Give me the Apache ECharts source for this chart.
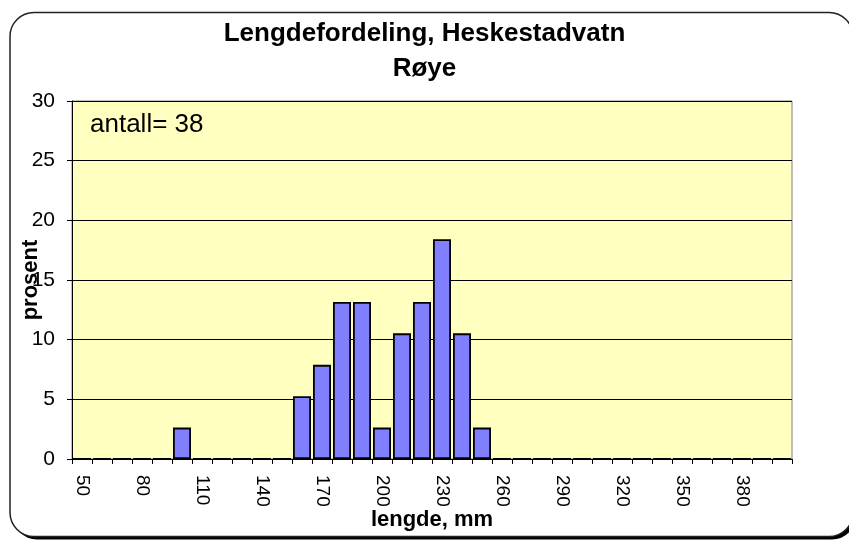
<!DOCTYPE html>
<html>
<head>
<meta charset="utf-8">
<script src="https://cdn.jsdelivr.net/npm/echarts@6/dist/echarts.min.js"></script>
<style>
html,body{margin:0;padding:0;background:#fff;}
#c{width:849px;height:541px;}
</style>
</head>
<body>
<div id="c"></div>
<script>
const lengthClasses = [50,60,70,80,90,100,110,120,130,140,150,160,170,180,190,200,210,220,230,240,250,260,270,280,290,300,310,320,330,340,350,360,370,380,390,400];
const percentValues = [0,0,0,0,0,2.63,0,0,0,0,0,5.26,7.89,13.16,13.16,2.63,10.53,13.16,18.42,10.53,2.63,0,0,0,0,0,0,0,0,0,0,0,0,0,0,0];
const yTicks = [0,5,10,15,20,25,30];
const titleText = 'Lengdefordeling, Heskestadvatn';
const subtitleText = 'Røye';
const noteText = 'antall= 38';
const xName = 'lengde, mm';
const yName = 'prosent';

const FONT = 'Arial, "Liberation Sans", sans-serif';
const chart = echarts.init(document.getElementById('c'), null, {renderer:'canvas'});
chart.setOption({
  animation:false,
  backgroundColor:'#ffffff',
  graphic:[
    {type:'rect', z:-10, shape:{x:13,y:15.5,width:843,height:524,r:24}, style:{fill:'#000'}},
    {type:'rect', z:-9, shape:{x:10,y:12.5,width:843,height:524,r:24}, style:{fill:'#fff',stroke:'#222',lineWidth:1.5}},
    {type:'text', left:'center', top:16, style:{text:titleText+'\n'+subtitleText, font:'bold 26px '+FONT, fill:'#000', textAlign:'center', lineHeight:35}},
    {type:'text', left:90, top:112, z:10, style:{text:noteText, font:'26px '+FONT, fill:'#000'}}
  ],
  grid:{left:72, right:57, top:101, bottom:82, show:true, outerBoundsMode:'none', containLabel:false,
        backgroundColor:'#FFFFC0', borderColor:'#808080', borderWidth:1},
  xAxis:{
    type:'category',
    data:lengthClasses,
    boundaryGap:true,
    name:xName, nameLocation:'middle', nameGap:50, nameMoveOverlap:false,
    nameTextStyle:{fontFamily:FONT, fontWeight:'bold', fontSize:22, color:'#000'},
    axisLine:{lineStyle:{color:'#000', width:1}},
    axisTick:{show:true, interval:0, length:5, lineStyle:{color:'#000'}},
    axisLabel:{interval:2, rotate:-90, margin:16, fontFamily:FONT, fontSize:19, color:'#000'},
    splitLine:{show:false}
  },
  yAxis:{
    type:'value', min:0, max:30, interval:5,
    name:yName, nameLocation:'middle', nameGap:30, nameMoveOverlap:false,
    nameTextStyle:{fontFamily:FONT, fontWeight:'bold', fontSize:22, color:'#000'},
    axisLine:{show:true, lineStyle:{color:'#000', width:1}},
    axisTick:{show:true, length:5, lineStyle:{color:'#000'}},
    axisLabel:{margin:17, fontFamily:FONT, fontSize:21, color:'#000',
      formatter:function(v){return yTicks.indexOf(v)>=0 ? String(v) : '';}},
    splitLine:{show:true, lineStyle:{color:'#000', width:1}}
  },
  series:[{
    type:'bar',
    data:percentValues,
    barCategoryGap:'10%',
    itemStyle:{color:'#8080FF', borderColor:'#000', borderWidth:1.8}
  }]
});
</script>
</body>
</html>
